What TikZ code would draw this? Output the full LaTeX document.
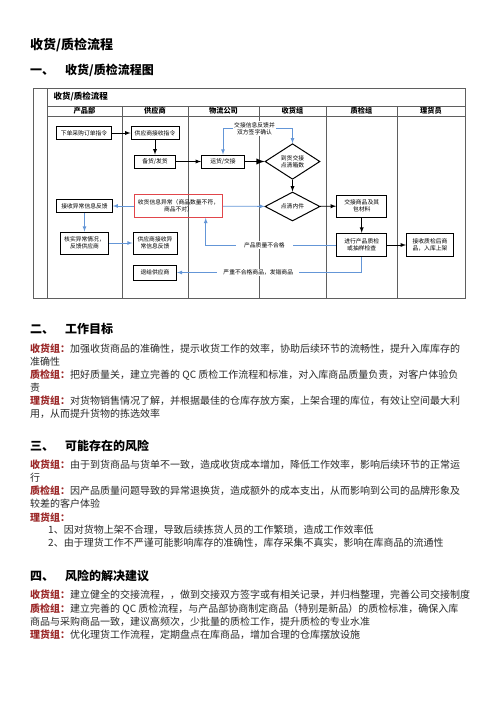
\documentclass[tikz,border=0pt]{standalone}
\usepackage{fontspec}
\setmainfont{Noto Sans CJK SC}
\usetikzlibrary{shapes.geometric}

\definecolor{tagred}{RGB}{155,40,40}
\definecolor{bodyc}{RGB}{40,40,40}
\definecolor{flowblue}{RGB}{100,150,215}
\definecolor{errred}{RGB}{225,70,75}
\definecolor{lanec}{RGB}{95,95,95}

\newcommand{\grp}[1]{{\color{tagred}\bfseries #1}}

\tikzset{
  box/.style={draw, line width=1pt, align=center, inner sep=1pt, font=\fontsize{5.8}{7}\selectfont},
  dia/.style={draw, diamond, line width=1pt, align=center, inner sep=0pt, minimum width=55pt, font=\fontsize{5.8}{7}\selectfont},
  hdr/.style={font=\fontsize{7.2}{8}\selectfont\bfseries},
  lanes/.style={draw=lanec, line width=0.6pt},
  mainline/.style={->, line width=0.9pt},
  fbline/.style={->, draw=flowblue, line width=0.8pt},
  lbl/.style={fill=white, inner xsep=6pt, inner ysep=1pt, font=\fontsize{5.8}{7}\selectfont, align=center},
  txt/.style={anchor=base west, inner sep=0pt, font=\fontsize{10}{13}\selectfont, text=bodyc},
  headtxt/.style={anchor=base west, inner sep=0pt, font=\fontsize{12}{14}\selectfont\bfseries},
}

\begin{document}
\begin{tikzpicture}[x=1pt, y=-1pt, >=latex]
        \useasboundingbox (0,0) rectangle (496,702);

        %% titre
        \node [anchor=base west, inner sep=0pt, font=\fontsize{13}{15}\selectfont\bfseries] (title) at (30,49) {收货/质检流程};
        \node [headtxt] (h1) at (30,74.6) {一、};
        \node [headtxt] (h1t) at (65,74.6) {收货/质检流程图};

        %% cadre du diagramme
        \draw [lanes] (33,88) rectangle (465,298);
        \draw [lanes] (47,88) -- (47,298);
        \draw [lanes] (47,106) -- (465,106);
        \draw [lanes] (47,116) -- (465,116);
        \foreach \x in {122,188,259,326,397}
            \draw [lanes] (\x,106) -- (\x,298);
        \node [font=\fontsize{8.5}{10}\selectfont\bfseries, anchor=west] (ctitle) at (50,97) {收货/质检流程};
        \foreach \x/\t [count=\i] in {84.5/产品部, 155/供应商, 223.5/物流公司, 292.5/收货组, 361.5/质检组, 431/理货员}
            \node [hdr] (hd\i) at (\x,111) {\t};

        %% etapes
        \node [box, minimum width=55pt, minimum height=12.5pt] (order) at (84,133) {下单采购订单指令};
        \node [box, minimum width=48pt, minimum height=12.5pt] (recv) at (155,133) {供应商接收指令};
        \node [box, minimum width=41pt, minimum height=13pt] (prep) at (155,161.5) {备货/发货};
        \node [box, minimum width=43pt, minimum height=13pt] (ship) at (223,161.5) {运货/交接};
        \node [dia, minimum height=33pt] (count) at (292.5,161.5) {到货交接\\点清箱数};
        \node [dia, minimum height=29pt] (check) at (292.5,206.5) {点清内件};
        \node [box, draw=errred, line width=0.9pt, minimum width=88.5pt, minimum height=23pt] (err) at (178.5,206) {收货信息异常（商品数量不符，\\商品不对）};
        \node [box, minimum width=55.5pt, minimum height=12.7pt] (fback) at (84.5,206) {接收异常信息反馈};
        \node [box, minimum width=48.3pt, minimum height=22pt] (verify) at (84.5,243) {核实异常情况，\\反馈供应商};
        \node [box, minimum width=44pt, minimum height=22pt] (supfb) at (155,243) {供应商接收异\\常信息反馈};
        \node [box, minimum width=43pt, minimum height=15pt] (ret) at (155,272.5) {退给供应商};
        \node [box, minimum width=50pt, minimum height=22pt] (hand) at (361.7,206) {交接商品及其\\包材料};
        \node [box, minimum width=50pt, minimum height=23.5pt] (qc) at (361.7,245) {进行产品质检\\或抽样检查};
        \node [box, minimum width=47pt, minimum height=23pt] (store) at (430,245) {接收质检后商\\品，入库上架};

        %% fleches noires
        \draw [mainline] (order) -- (recv);
        \draw [mainline] (recv) -- (prep);
        \draw [mainline] (prep) -- (ship);
        \draw [mainline, line width=1.8pt] (ship) -- (count);
        \draw [mainline] (count) -- (check);
        \draw [mainline] (check) -- (hand);
        \draw [mainline] (hand) -- (qc);
        \draw [mainline] (qc) -- (store);

        %% fleches bleues
        \node [lbl, inner xsep=1pt] (sign) at (254.5,128.3) {交接信息反馈并\\双方签字确认};
        \draw [fbline] (sign.west) -| (ship.north);
        \draw [fbline] (sign.east) -| (count.north);
        \draw [fbline] (err) -- (check);
        \draw [fbline] (err) -- (fback);
        \draw [fbline] (fback) -- (verify);
        \draw [fbline] (verify) -- (supfb);
        \coordinate (qback) at (205.7,245);
        \draw [fbline] (qc.west) -- node [lbl, pos=0.55, inner xsep=8pt] (bad) {产品质量不合格} (qback) -- (qback |- err.south);
        \draw [fbline] (qc.south) |- node [lbl, pos=0.78] (worse) {严重不合格商品，发错商品} (ret.east);

        %% 二、工作目标
        \node [headtxt] (h2) at (30,333.6) {二、};
        \node [headtxt] (h2t) at (65,333.6) {工作目标};
        \node [txt] (a1) at (30,352.8) {\grp{收货组：}加强收货商品的准确性，提示收货工作的效率，协助后续环节的流畅性，提升入库库存的};
        \node [txt] (a2) at (30,365.4) {准确性};
        \node [txt] (a3) at (30,378.6) {\grp{质检组：}把好质量关，建立完善的 QC 质检工作流程和标准，对入库商品质量负责，对客户体验负};
        \node [txt] (a4) at (30,391) {责};
        \node [txt] (a5) at (30,404.6) {\grp{理货组：}对货物销售情况了解，并根据最佳的仓库存放方案，上架合理的库位，有效让空间最大利};
        \node [txt] (a6) at (30,417) {用，从而提升货物的拣选效率};

        %% 三、可能存在的风险
        \node [headtxt] (h3) at (30,450.6) {三、};
        \node [headtxt] (h3t) at (65,450.6) {可能存在的风险};
        \node [txt] (b1) at (30,468.8) {\grp{收货组：}由于到货商品与货单不一致，造成收货成本增加，降低工作效率，影响后续环节的正常运};
        \node [txt] (b2) at (30,481.8) {行};
        \node [txt] (b3) at (30,494.8) {\grp{质检组：}因产品质量问题导致的异常退换货，造成额外的成本支出，从而影响到公司的品牌形象及};
        \node [txt] (b4) at (30,507.8) {较差的客户体验};
        \node [txt] (b5) at (30,521) {\grp{理货组：}};
        \node [txt] (b6) at (48,533.8) {1、因对货物上架不合理，导致后续拣货人员的工作繁琐，造成工作效率低};
        \node [txt] (b7) at (48,546.8) {2、由于理货工作不严谨可能影响库存的准确性，库存采集不真实，影响在库商品的流通性};

        %% 四、风险的解决建议
        \node [headtxt] (h4) at (30,580.6) {四、};
        \node [headtxt] (h4t) at (65,580.6) {风险的解决建议};
        \node [txt] (c1) at (30,598.8) {\grp{收货组：}建立健全的交接流程，，做到交接双方签字或有相关记录，并归档整理，完善公司交接制度};
        \node [txt] (c2) at (30,612.3) {\grp{质检组：}建立完善的 QC 质检流程，与产品部协商制定商品（特别是新品）的质检标准，确保入库};
        \node [txt] (c3) at (30,625.8) {商品与采购商品一致，建议高频次，少批量的质检工作，提升质检的专业水准};
        \node [txt] (c4) at (30,638.8) {\grp{理货组：}优化理货工作流程，定期盘点在库商品，增加合理的仓库摆放设施};

    \end{tikzpicture}
\end{document}
